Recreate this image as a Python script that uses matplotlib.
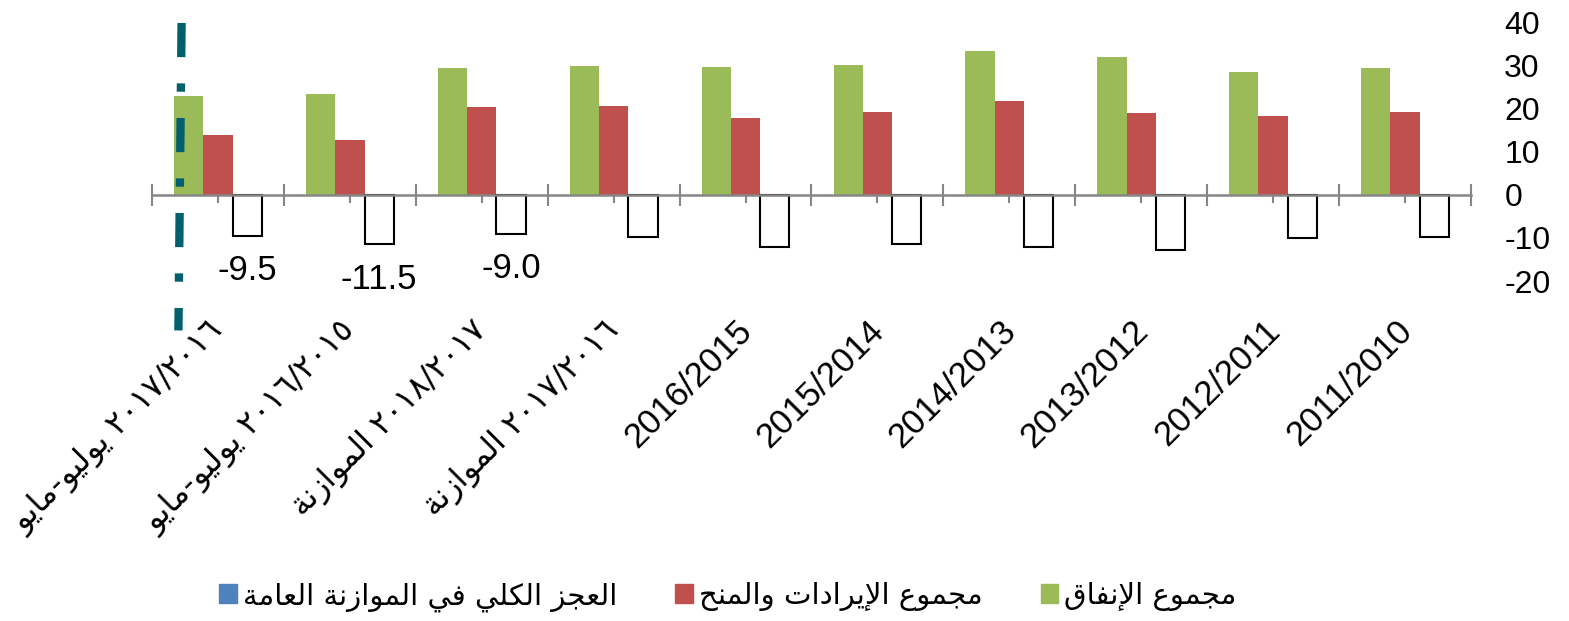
import matplotlib
matplotlib.use("Agg")
import matplotlib.pyplot as plt
import matplotlib.transforms as mtransforms
from matplotlib.patches import Patch
import numpy as np

# Arabic shaping (presentation forms) so matplotlib can draw joined letters
FORMS = {
    'ا': (0xFE8D, 0xFE8E, None, None),
    'إ': (0xFE87, 0xFE88, None, None),
    'أ': (0xFE83, 0xFE84, None, None),
    'ة': (0xFE93, 0xFE94, None, None),
    'ت': (0xFE95, 0xFE96, 0xFE97, 0xFE98),
    'ج': (0xFE9D, 0xFE9E, 0xFE9F, 0xFEA0),
    'ح': (0xFEA1, 0xFEA2, 0xFEA3, 0xFEA4),
    'د': (0xFEA9, 0xFEAA, None, None),
    'ر': (0xFEAD, 0xFEAE, None, None),
    'ز': (0xFEAF, 0xFEB0, None, None),
    'ع': (0xFEC9, 0xFECA, 0xFECB, 0xFECC),
    'ف': (0xFED1, 0xFED2, 0xFED3, 0xFED4),
    'ق': (0xFED5, 0xFED6, 0xFED7, 0xFED8),
    'ك': (0xFED9, 0xFEDA, 0xFEDB, 0xFEDC),
    'ل': (0xFEDD, 0xFEDE, 0xFEDF, 0xFEE0),
    'م': (0xFEE1, 0xFEE2, 0xFEE3, 0xFEE4),
    'ن': (0xFEE5, 0xFEE6, 0xFEE7, 0xFEE8),
    'و': (0xFEED, 0xFEEE, None, None),
    'ي': (0xFEF1, 0xFEF2, 0xFEF3, 0xFEF4),
}
LAM_ALEF = {'ا': (0xFEFB, 0xFEFC), 'إ': (0xFEF9, 0xFEFA), 'أ': (0xFEF7, 0xFEF8)}


def ar(text):
    """shape a logical arabic string and return it in visual (LTR) order"""
    toks = []
    i = 0
    while i < len(text):
        c = text[i]
        if c == 'ل' and i + 1 < len(text) and text[i + 1] in LAM_ALEF:
            toks.append(('LA', text[i + 1]))
            i += 2
        else:
            toks.append(('C', c))
            i += 1

    def joinable(t):
        return t[0] == 'LA' or t[1] in FORMS

    def links_next(t):
        return t[0] == 'C' and t[1] in FORMS and FORMS[t[1]][2] is not None

    out = []
    for j, t in enumerate(toks):
        prev = toks[j - 1] if j > 0 else None
        nxt = toks[j + 1] if j + 1 < len(toks) else None
        jp = prev is not None and links_next(prev)
        if t[0] == 'LA':
            out.append(chr(LAM_ALEF[t[1]][1 if jp else 0]))
            continue
        c = t[1]
        if c not in FORMS:
            out.append(c)
            continue
        f = FORMS[c]
        jn = f[2] is not None and nxt is not None and joinable(nxt)
        if jp and jn:
            g = f[3]
        elif jp:
            g = f[1]
        elif jn:
            g = f[2]
        else:
            g = f[0]
        out.append(chr(g))
    return ''.join(reversed(out))


# ---- data (index 0 = rightmost category, axis is reversed) ----
categories = [
    '2011/2010', '2012/2011', '2013/2012', '2014/2013', '2015/2014', '2016/2015',
    ar('الموازنة') + ' ٢٠١٧/٢٠١٦',
    ar('الموازنة') + ' ٢٠١٨/٢٠١٧',
    ar('يوليو-مايو') + ' ٢٠١٦/٢٠١٥',
    ar('يوليو-مايو') + ' ٢٠١٧/٢٠١٦',
]
spending = [29.5, 28.5, 32.0, 33.5, 30.3, 29.7, 30.1, 29.5, 23.6, 23.1]
revenue = [19.4, 18.3, 19.1, 21.8, 19.2, 17.8, 20.6, 20.4, 12.9, 13.9]
deficit = [-9.7, -9.9, -12.9, -12.1, -11.5, -12.2, -9.7, -9.0, -11.5, -9.5]
labelled = [7, 8, 9]   # categories whose deficit carries a value label

series_names = [ar('مجموع الإنفاق'), ar('مجموع الإيرادات والمنح'),
                ar('العجز الكلي في الموازنة العامة')]

GREEN = '#9BBB59'
RED = '#C0504D'
BLUE = '#4F81BD'
TEAL = '#02606E'
AXIS_GRAY = '#868686'

plt.rcParams['font.family'] = ['Liberation Sans', 'DejaVu Sans']

fig = plt.figure(figsize=(15.69, 6.21), dpi=100)
ax = fig.add_axes([0.0969, 0.5475, 0.8406, 0.4155])

x = np.arange(len(categories))
w = 0.222
ax.bar(x + w, spending, w, color=GREEN, zorder=3)
ax.bar(x, revenue, w, color=RED, zorder=3)
ax.bar(x - w, deficit, w, facecolor='white', edgecolor='black', linewidth=1.5, zorder=3)

for i in labelled:
    ax.annotate(f'{deficit[i]:.1f}', (x[i] - w, deficit[i]), xytext=(0, -25),
                textcoords='offset points', ha='center', va='center',
                fontsize=25, color='black')

# divider between the partial-year figures and the rest
ax.plot([9.276, 9.30], [40, -31.5], color=TEAL, linewidth=6,
        linestyle=(0, (4.1, 3.15, 1.0, 3.15)), clip_on=False, zorder=5)

ax.set_xlim(-0.5, 9.5)
ax.invert_xaxis()
ax.set_ylim(-20, 40)

for s in ['top', 'left', 'right']:
    ax.spines[s].set_visible(False)
ax.spines['bottom'].set_position(('data', 0))
ax.spines['bottom'].set_color(AXIS_GRAY)
ax.spines['bottom'].set_linewidth(1.8)
ax.spines['bottom'].set_zorder(4)

ax.set_xticks(x)
ax.set_xticks(np.arange(-0.5, 10, 1), minor=True)
ax.set_xticklabels(categories, rotation=45, ha='right', va='top',
                   rotation_mode='anchor')
ax.tick_params(axis='x', which='major', direction='inout', length=12,
               width=1.5, color=AXIS_GRAY, pad=80, labelsize=25)
ax.tick_params(axis='x', which='minor', direction='inout', length=16,
               width=1.5, color=AXIS_GRAY)
for lbl in ax.get_xticklabels():
    dx = -0.10
    if not lbl.get_text()[0].isdigit():
        lbl.set_fontsize(23)
        lbl.set_family(['DejaVu Sans'])
        dx = -0.11
    lbl.set_transform(lbl.get_transform() +
                      mtransforms.ScaledTranslation(dx, 0, fig.dpi_scale_trans))

ax.yaxis.tick_right()
ax.set_yticks([-20, -10, 0, 10, 20, 30, 40])
ax.set_yticklabels(['-20', '-10', '0', '10', '20', '30', '40'])
ax.tick_params(axis='y', length=0, pad=24, labelsize=23)

handles = [Patch(color=BLUE), Patch(color=RED), Patch(color=GREEN)]
fig.legend(handles, [series_names[2], series_names[1], series_names[0]],
           loc='center', bbox_to_anchor=(0.464, 0.039), ncol=3, frameon=False,
           handlelength=0.6, handleheight=0.6, handletextpad=0.2,
           columnspacing=2.0, prop={'family': ['DejaVu Sans'], 'size': 21})

fig.savefig('out.png', dpi=100)
